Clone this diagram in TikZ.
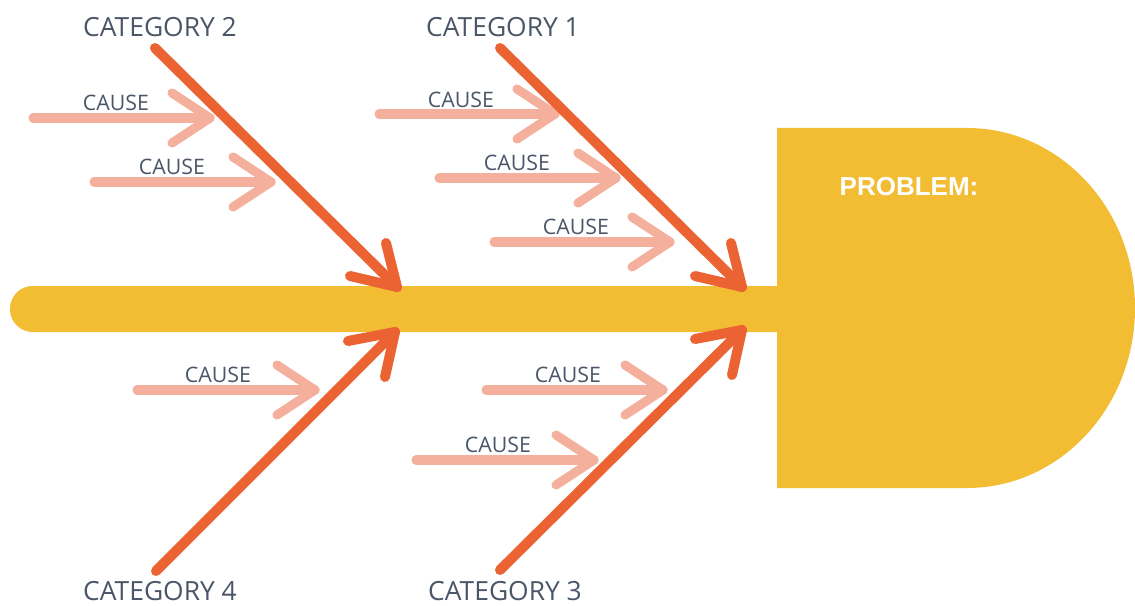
\documentclass[tikz,border=0pt]{standalone}
\usepackage{fontspec}
\setmainfont{Open Sans}
\newfontfamily\headfont{Liberation Sans}
\begin{document}
\begin{tikzpicture}[x=0.75pt,y=-0.75pt,
  spinecol/.style={fill={rgb,255:red,243;green,189;blue,51}},
  bone/.style={draw={rgb,255:red,235;green,99;blue,51},line width=7.5pt,line cap=round,line join=round},
  causearrow/.style={draw={rgb,255:red,244;green,176;blue,156},line width=6.8pt,line cap=round,line join=round},
  catlabel/.style={text={rgb,255:red,74;green,86;blue,104},font=\fontsize{19.8pt}{23pt}\selectfont,inner sep=0pt},
  causelabel/.style={text={rgb,255:red,74;green,86;blue,104},font=\fontsize{16pt}{19pt}\selectfont,inner sep=0pt},
]
\useasboundingbox (0,0) rectangle (1135,606);

% spine and head
\fill[spinecol,rounded corners=17pt] (10,286) rectangle (800,332);
\fill[spinecol] (777,128) -- (967,128) arc[start angle=-90,end angle=90,x radius=168,y radius=180] -- (777,488) -- cycle;
\node[text=white,inner sep=0pt,font=\headfont\bfseries\fontsize{19.5pt}{23pt}\selectfont] (problem) at (909,187) {PROBLEM:};

% category labels
\node[catlabel] (cat2) at (160,27) {CATEGORY 2};
\node[catlabel] (cat1) at (503,27) {CATEGORY 1};
\node[catlabel] (cat4) at (160,591) {CATEGORY 4};
\node[catlabel] (cat3) at (505,591) {CATEGORY 3};

% bone ends
\coordinate (b2s) at (155,48);  \coordinate (b2t) at (397,287);
\coordinate (b1s) at (500,48);  \coordinate (b1t) at (742,287);
\coordinate (b4s) at (156,571); \coordinate (b4t) at (395,332);
\coordinate (b3s) at (500,570); \coordinate (b3t) at (742,330);

% cause arrows: start and tip
\coordinate (a1s) at (33,118);  \coordinate (a1t) at (210,118);
\coordinate (a2s) at (94,182);  \coordinate (a2t) at (271,182);
\coordinate (a3s) at (379,114); \coordinate (a3t) at (555,114);
\coordinate (a4s) at (439,178); \coordinate (a4t) at (616,178);
\coordinate (a5s) at (494,242); \coordinate (a5t) at (670,242);
\coordinate (a6s) at (137,390); \coordinate (a6t) at (315,390);
\coordinate (a7s) at (486,390); \coordinate (a7t) at (663,390);
\coordinate (a8s) at (416,460); \coordinate (a8t) at (594,460);

\foreach \i in {1,...,8}{
  \draw[causearrow] (a\i s) -- (a\i t);
  \draw[causearrow] ([shift={(-38,-25)}]a\i t) -- (a\i t) -- ([shift={(-38,25)}]a\i t);
}

\node[causelabel] (l1) at (116,103) {CAUSE};
\node[causelabel] (l2) at (172,167) {CAUSE};
\node[causelabel] (l3) at (461,100) {CAUSE};
\node[causelabel] (l4) at (517,163) {CAUSE};
\node[causelabel] (l5) at (576,227) {CAUSE};
\node[causelabel] (l6) at (218,375) {CAUSE};
\node[causelabel] (l7) at (568,375) {CAUSE};
\node[causelabel] (l8) at (498,445) {CAUSE};

% category bones
\draw[bone] (b2s) -- (b2t);
\draw[bone] ([shift={(-11,-44)}]b2t) -- (b2t) -- ([shift={(-47,-11)}]b2t);
\draw[bone] (b1s) -- (b1t);
\draw[bone] ([shift={(-11,-44)}]b1t) -- (b1t) -- ([shift={(-47,-11)}]b1t);
\draw[bone] (b4s) -- (b4t);
\draw[bone] ([shift={(-10,45)}]b4t) -- (b4t) -- ([shift={(-47,9)}]b4t);
\draw[bone] (b3s) -- (b3t);
\draw[bone] ([shift={(-10,45)}]b3t) -- (b3t) -- ([shift={(-47,9)}]b3t);
\end{tikzpicture}
\end{document}
